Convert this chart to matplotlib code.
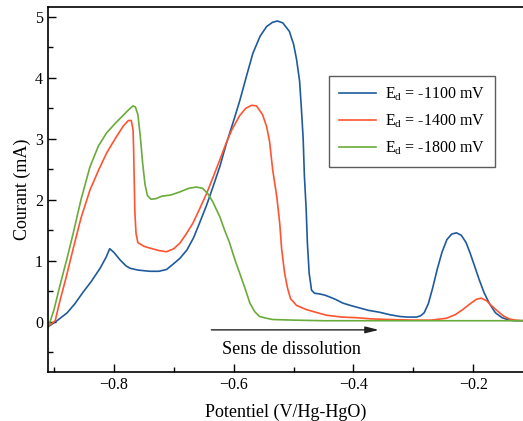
import matplotlib
matplotlib.use("Agg")
import matplotlib.pyplot as plt
from matplotlib.ticker import MultipleLocator

plt.rcParams['font.family'] = ['Liberation Serif', 'DejaVu Serif']
plt.rcParams['mathtext.fontset'] = 'custom'
plt.rcParams['mathtext.rm'] = 'Liberation Serif'
plt.rcParams['mathtext.it'] = 'Liberation Serif:italic'

# Data ---------------------------------------------------------------
x_1100 = [-0.91, -0.895, -0.878, -0.865, -0.852, -0.838, -0.823, -0.813, -0.807, -0.80,
          -0.79, -0.78, -0.773, -0.76, -0.74, -0.725, -0.712, -0.702, -0.69, -0.678,
          -0.667, -0.657, -0.645, -0.635, -0.623, -0.612, -0.60, -0.59, -0.578, -0.568,
          -0.556, -0.545, -0.535, -0.527, -0.518, -0.507, -0.50, -0.495, -0.49, -0.487,
          -0.484, -0.482, -0.479, -0.477, -0.474, -0.47, -0.465, -0.457, -0.448, -0.44,
          -0.43, -0.418, -0.405, -0.39, -0.375, -0.357, -0.34, -0.323, -0.31, -0.295,
          -0.288, -0.282, -0.275, -0.268, -0.26, -0.252, -0.244, -0.236, -0.228, -0.22,
          -0.212, -0.205, -0.198, -0.19, -0.182, -0.173, -0.163, -0.152, -0.14, -0.13, -0.117]
i_1100 = [-0.08, 0.02, 0.15, 0.3, 0.48, 0.66, 0.88, 1.06, 1.2, 1.14,
          1.02, 0.92, 0.88, 0.85, 0.83, 0.83, 0.86, 0.94, 1.04, 1.18,
          1.38, 1.62, 1.92, 2.2, 2.55, 2.93, 3.3, 3.62, 4.05, 4.4,
          4.68, 4.84, 4.91, 4.93, 4.9, 4.76, 4.55, 4.3, 3.95, 3.5,
          3.0, 2.4, 1.85, 1.3, 0.8, 0.52, 0.47, 0.46, 0.44, 0.41,
          0.37, 0.31, 0.27, 0.23, 0.19, 0.16, 0.12, 0.09, 0.08, 0.08,
          0.1, 0.15, 0.3, 0.55, 0.87, 1.15, 1.35, 1.44, 1.46, 1.42,
          1.3, 1.12, 0.92, 0.69, 0.48, 0.3, 0.15, 0.07, 0.03, 0.02, 0.02]

x_1400 = [-0.907, -0.898, -0.89, -0.88, -0.868, -0.855, -0.84, -0.825, -0.812, -0.798,
          -0.785, -0.776, -0.771, -0.768, -0.767, -0.766, -0.765, -0.763, -0.76, -0.75,
          -0.74, -0.725, -0.712, -0.70, -0.69, -0.68, -0.668, -0.657, -0.645, -0.634,
          -0.623, -0.613, -0.603, -0.59, -0.58, -0.57, -0.562, -0.552, -0.545, -0.54,
          -0.535, -0.528, -0.523, -0.52, -0.515, -0.51, -0.505, -0.495, -0.478, -0.46,
          -0.445, -0.42, -0.395, -0.37, -0.34, -0.30, -0.27, -0.245, -0.23, -0.218,
          -0.205, -0.195, -0.187, -0.178, -0.17, -0.162, -0.15, -0.14, -0.13, -0.117]
i_1400 = [-0.05, 0.02, 0.35, 0.72, 1.2, 1.7, 2.16, 2.5, 2.77, 3.0,
          3.2, 3.3, 3.3, 3.15, 2.8, 2.3, 1.8, 1.45, 1.3, 1.24,
          1.21, 1.17, 1.15, 1.2, 1.29, 1.43, 1.62, 1.85, 2.11, 2.38,
          2.66, 2.92, 3.15, 3.38, 3.5, 3.55, 3.54, 3.4, 3.2, 2.95,
          2.5, 2.05, 1.6, 1.2, 0.8, 0.55, 0.38, 0.27, 0.2, 0.15,
          0.11, 0.08, 0.07, 0.05, 0.04, 0.03, 0.03, 0.06, 0.12, 0.2,
          0.3, 0.37, 0.39, 0.35, 0.27, 0.2, 0.1, 0.05, 0.03, 0.02]

x_1800 = [-0.91, -0.9, -0.89, -0.878, -0.868, -0.855, -0.84, -0.826, -0.812, -0.798,
          -0.785, -0.775, -0.768, -0.764, -0.76, -0.756, -0.752, -0.748, -0.744, -0.738,
          -0.73, -0.72, -0.705, -0.69, -0.675, -0.662, -0.652, -0.643, -0.635, -0.623,
          -0.615, -0.607, -0.598, -0.59, -0.58, -0.573, -0.565, -0.557, -0.545, -0.535,
          -0.5, -0.45, -0.4, -0.3, -0.2, -0.117]
i_1800 = [-0.1, 0.2, 0.6, 1.05, 1.45, 2.0, 2.54, 2.88, 3.1, 3.25,
          3.38, 3.48, 3.54, 3.52, 3.4, 3.05, 2.6, 2.25, 2.07, 2.01,
          2.02, 2.06, 2.08, 2.13, 2.19, 2.21, 2.19, 2.1, 1.97, 1.72,
          1.5, 1.3, 1.02, 0.8, 0.52, 0.31, 0.17, 0.09, 0.06, 0.04,
          0.03, 0.02, 0.02, 0.02, 0.02, 0.02]

labels = [r'E$_{\rm d}$ = -1100 mV', r'E$_{\rm d}$ = -1400 mV', r'E$_{\rm d}$ = -1800 mV']
colors = ['#1f5b9c', '#ff5430', '#6aab3a']

# Figure --------------------------------------------------------------
fig = plt.figure(figsize=(5.23, 4.21), dpi=100)
ax = fig.add_axes([48/523, 1-372/421, 1-48/523, (372-7)/421])

for xs, ys, lab, c in zip([x_1100, x_1400, x_1800], [i_1100, i_1400, i_1800], labels, colors):
    ax.plot(xs, ys, color=c, lw=1.2, label=lab)

ax.set_xlim(-0.91, -0.117)
ax.set_ylim(-0.82, 5.16)
ax.xaxis.set_major_locator(MultipleLocator(0.2))
ax.xaxis.set_minor_locator(MultipleLocator(0.1))
ax.yaxis.set_major_locator(MultipleLocator(1))
ax.yaxis.set_minor_locator(MultipleLocator(0.5))
ax.tick_params(which='both', direction='in', top=False, right=False, labelsize=11.5, width=1.0)
ax.tick_params(which='major', length=6)
ax.tick_params(which='minor', length=3.5)
for s in ['left', 'bottom', 'top']:
    ax.spines[s].set_linewidth(1.2)
ax.spines['right'].set_visible(False)

ax.set_xlabel('Potentiel (V/Hg-HgO)', fontsize=13, labelpad=8)
ax.set_ylabel('Courant (mA)', fontsize=13, labelpad=3)

ax.annotate('', xy=(-0.353, -0.13), xytext=(-0.642, -0.13),
            arrowprops=dict(arrowstyle='-|>,head_length=0.8,head_width=0.2', color='#222222', lw=1.0))
ax.text(-0.504, -0.45, 'Sens de dissolution', ha='center', va='center', fontsize=13)

leg = ax.legend(loc='upper right', bbox_to_anchor=(0.941, 0.811), borderaxespad=0,
                fontsize=11.5, frameon=True, fancybox=False, edgecolor='#333333',
                handlelength=2.3, labelspacing=0.6, borderpad=0.6, handletextpad=0.6)
leg.get_frame().set_linewidth(1.0)

fig.savefig('out.png', dpi=100)
